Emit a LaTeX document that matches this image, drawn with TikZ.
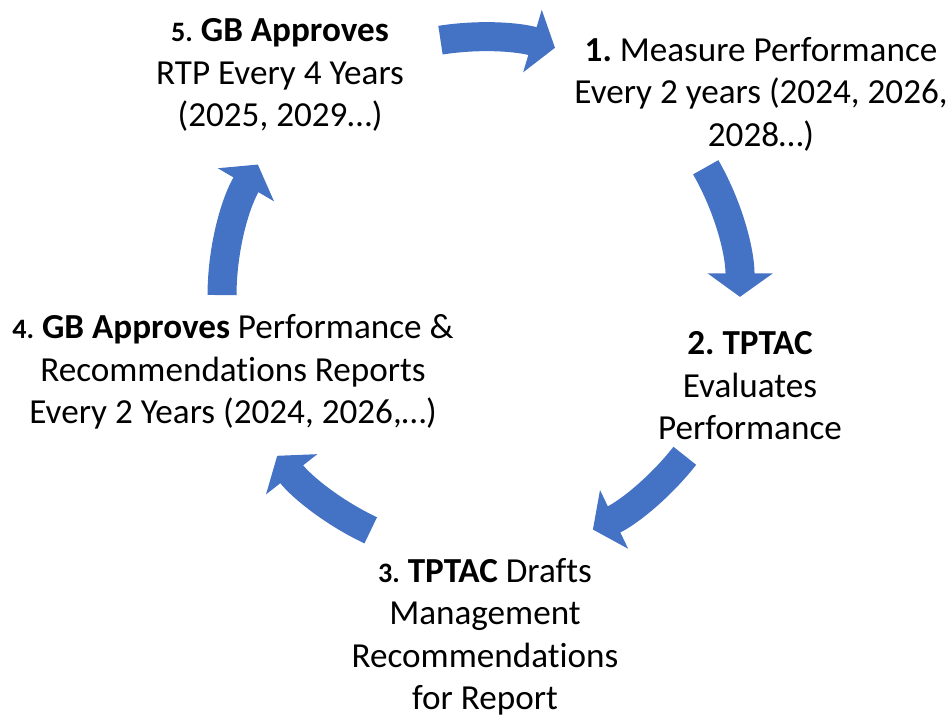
\documentclass[tikz,border=0pt]{standalone}
\usepackage{fontspec}
\setmainfont{Carlito}[Ligatures=NoCommon]
\usetikzlibrary{arrows.meta}
\definecolor{cycblue}{HTML}{4472C4}
\newcommand{\snum}[1]{{\fontsize{16}{19}\selectfont\bfseries #1}}
\frenchspacing

\begin{document}
\begin{tikzpicture}[stage/.style={align=center,inner sep=0pt,font=\fontsize{20}{24.2}\selectfont},flow/.style={draw=cycblue,line width=0.58cm,-{Triangle[length=0.47cm,width=1.28cm]}}]
\def\r{5.18};

\useasboundingbox (0,0) rectangle (19.04,14.36);

\coordinate (O) at (9.62,8.44);

\node[stage] (S5) at (5.60,12.86) {\snum{5.} \textbf{GB Approves}\\RTP Every 4 Years\\(2025, 2029\ldots)};
\node[stage] (S1) at (15.22,12.48) {\textbf{1.} Measure Performance\\Every 2 years (2024, 2026,\\2028\ldots)};
\node[stage] (S2) at (15.00,6.64) {\textbf{2. TPTAC}\\Evaluates\\Performance};
\node[stage] (S3) at (9.70,1.62) {\snum{3.} \textbf{TPTAC} Drafts\\Management\\Recommendations\\for Report};
\node[stage] (S4) at (4.66,6.92) {\snum{4.} \textbf{GB Approves} Performance \&\\Recommendations Reports\\Every 2 Years (2024, 2026,\ldots)};

% arrows round the cycle
\draw[flow] (O) ++(99:\r) arc[start angle=99,end angle=73.4,radius=\r];
\draw[flow] (O) ++(29.8:\r) arc[start angle=29.8,end angle=-0.2,radius=\r];
\draw[flow] (O) ++(-38.1:\r) arc[start angle=-38.1,end angle=-64.4,radius=\r];
\draw[flow] (O) ++(-115.2:\r) arc[start angle=-115.2,end angle=-141.9,radius=\r];
\draw[flow] (O) ++(179.8:\r) arc[start angle=179.8,end angle=149.5,radius=\r];
\end{tikzpicture}
\end{document}
